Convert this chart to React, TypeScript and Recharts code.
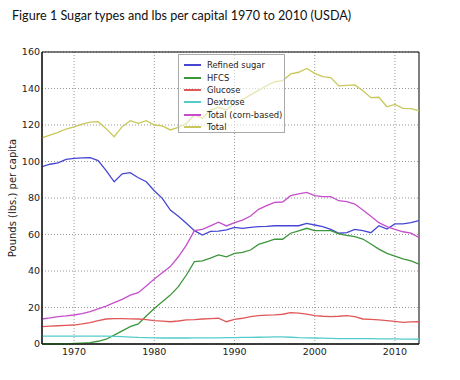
import { LineChart, Line, XAxis, YAxis, CartesianGrid, ReferenceArea } from 'recharts'

const years = [
  1966, 1967, 1968, 1969, 1970, 1971, 1972, 1973, 1974, 1975, 1976, 1977, 1978, 1979, 1980, 1981,
  1982, 1983, 1984, 1985, 1986, 1987, 1988, 1989, 1990, 1991, 1992, 1993, 1994, 1995, 1996, 1997,
  1998, 1999, 2000, 2001, 2002, 2003, 2004, 2005, 2006, 2007, 2008, 2009, 2010, 2011, 2012, 2013,
]

const refined = [
  97.2, 98.5, 99.2, 101.2, 101.7, 102, 102.1, 100.5, 95, 88.9, 93.2, 93.9, 91.1, 88.9, 84, 79.8,
  73.4, 70, 66.2, 62.1, 59.7, 61.7, 61.9, 62.5, 63.9, 63.4, 63.9, 64.3, 64.5, 64.8, 64.8, 64.8,
  64.8, 66.1, 65.2, 64.3, 62.8, 60.7, 61, 62.8, 62.1, 61, 64.8, 63, 65.8, 65.8, 66.5, 67.6,
]

const hfcs = [
  0, 0, 0, 0.1, 0.3, 0.5, 0.7, 1.5, 2.6, 4.9, 7.2, 9.5, 11, 15.3, 19.5, 23.2,
  26.8, 31.4, 37.8, 45.1, 45.5, 47, 48.8, 47.8, 49.7, 50.2, 51.5, 54.6, 56, 57.4, 57.4, 60.7,
  62, 63.4, 62.1, 62.1, 62.1, 60.3, 59.5, 58.8, 57.5, 54.8, 52, 49.7, 48.2, 46.6, 45.5, 43.7,
]

const glucose = [
  9.5, 9.8, 10, 10.2, 10.4, 11, 11.7, 12.8, 13.7, 13.9, 13.9, 13.8, 13.7, 13.3, 12.8, 12.5,
  12.2, 12.6, 13.2, 13.4, 13.7, 13.9, 14.1, 12.2, 13.5, 14.1, 15, 15.5, 15.8, 16, 16.3, 17.2,
  16.9, 16.4, 15.5, 15.2, 15, 15.2, 15.5, 15, 13.7, 13.5, 13.2, 12.8, 12.4, 11.9, 12.1, 12.2,
]

const dextrose = [
  4.3, 4.3, 4.3, 4.3, 4.3, 4.3, 4.3, 4.3, 4.3, 4.2, 4.0, 3.8, 3.6, 3.5, 3.4, 3.3,
  3.3, 3.3, 3.3, 3.4, 3.4, 3.4, 3.4, 3.5, 3.5, 3.6, 3.6, 3.7, 3.8, 3.9, 3.9, 3.7,
  3.5, 3.4, 3.3, 3.2, 3.1, 3.0, 3.0, 3.0, 2.9, 2.9, 2.8, 2.8, 2.8, 2.7, 2.7, 2.6,
]

const cornTotal = [
  13.7, 14.3, 15, 15.4, 15.9, 16.7, 17.7, 19.3, 20.8, 22.7, 24.5, 26.8, 28.1, 31.8, 35.6, 39,
  42.4, 47.8, 54.2, 62.1, 62.8, 64.7, 66.7, 64.7, 66.5, 67.9, 70.1, 73.8, 75.8, 77.6, 77.8, 81.3,
  82.2, 83.1, 81.3, 80.7, 80.7, 78.5, 78, 76.7, 73.4, 70, 66.5, 64.3, 62.8, 61.5, 60.7, 58.4,
]

const total = [
  113, 114.5, 116, 117.8, 119, 120.5, 121.6, 121.8, 118, 113.6, 119.1, 122.4, 120.9, 122.4, 120, 119.5,
  117.3, 118.7, 120.9, 125.5, 123.7, 128.2, 129.7, 128.2, 131.9, 134, 136.5, 139, 141.5, 143.7, 144.3, 148,
  148.9, 151, 148.3, 146.5, 146, 141.4, 141.7, 142, 138.8, 135, 135.2, 130, 131.3, 129.1, 129, 127.9,
]

const xTicks = [1970, 1980, 1990, 2000, 2010]
const yTicks = [0, 20, 40, 60, 80, 100, 120, 140, 160]

const series = [
  { key: 'refined', name: 'Refined sugar', color: '#4646d4' },
  { key: 'hfcs', name: 'HFCS', color: '#3c963c' },
  { key: 'glucose', name: 'Glucose', color: '#e05858' },
  { key: 'dextrose', name: 'Dextrose', color: '#55cccc' },
  { key: 'cornTotal', name: 'Total (corn-based)', color: '#c64ecc' },
  { key: 'total', name: 'Total', color: '#c8c85a' },
]

const data = years.map((year, i) => ({
  year,
  refined: refined[i],
  hfcs: hfcs[i],
  glucose: glucose[i],
  dextrose: dextrose[i],
  cornTotal: cornTotal[i],
  total: total[i],
}))

const axisFont = { fontFamily: 'DejaVu Sans', fontSize: 9.5, fill: '#222' }

// legend sits over the plot, half see-through like the matplotlib one
function LegendBox() {
  return (
    <div
      style={{
        position: 'absolute',
        left: 178,
        top: 54,
        width: 107,
        height: 79,
        border: '1px solid #aaa',
        background: 'rgba(255,255,255,0.55)',
        fontFamily: 'DejaVu Sans',
        fontSize: 8.4,
        color: '#222',
        paddingTop: 4,
        boxSizing: 'border-box',
        whiteSpace: 'nowrap',
      }}
    >
      {series.map((s) => (
        <div key={s.key} style={{ display: 'flex', alignItems: 'center', height: 12.4 }}>
          <span
            style={{
              display: 'inline-block',
              width: 17,
              height: 0,
              borderTop: `2px solid ${s.color}`,
              marginLeft: 5,
              marginRight: 6,
            }}
          />
          <span>{s.name}</span>
        </div>
      ))}
    </div>
  )
}

function YLabel({ viewBox }: any) {
  const cy = viewBox ? viewBox.y + viewBox.height / 2 : 198
  return (
    <text
      transform={`translate(12,${cy}) rotate(-90)`}
      textAnchor="middle"
      dominantBaseline="central"
      style={{ fontFamily: 'DejaVu Sans', fontSize: 10, fill: '#222' }}
    >
      Pounds (lbs.) per capita
    </text>
  )
}

export default function App() {
  return (
    <div style={{ position: 'absolute', left: 0, top: 0, width: 460, height: 380, background: '#fff' }}>
      <div
        style={{
          position: 'absolute',
          left: 12,
          top: 8,
          fontFamily: 'Lato',
          fontSize: 12.6,
          color: '#111',
          whiteSpace: 'nowrap',
        }}
      >
        Figure 1 Sugar types and lbs per capital 1970 to 2010 (USDA)
      </div>
      <LineChart width={460} height={380} data={data} margin={{ top: 52, right: 41, bottom: 0, left: 0 }}>
        <CartesianGrid stroke="#999" strokeDasharray="1 2" horizontalValues={yTicks} verticalValues={xTicks} />
        <XAxis
          dataKey="year"
          type="number"
          domain={[1966, 2013]}
          ticks={xTicks}
          allowDataOverflow
          height={36}
          tickLine={false}
          tickSize={0}
          tickMargin={4}
          axisLine={{ stroke: '#000' }}
          tick={axisFont}
        />
        <YAxis
          type="number"
          domain={[0, 160]}
          ticks={yTicks}
          width={42}
          tickLine={false}
          tickSize={0}
          tickMargin={2}
          axisLine={{ stroke: '#000' }}
          tick={axisFont}
          label={<YLabel />}
        />
        <ReferenceArea x1={1966} x2={2013} y1={0} y2={160} fill="none" stroke="#000" strokeWidth={1} />
        {series.map((s) => (
          <Line
            key={s.key}
            type="linear"
            dataKey={s.key}
            name={s.name}
            stroke={s.color}
            strokeWidth={1.3}
            dot={false}
            isAnimationActive={false}
          />
        ))}
      </LineChart>
      <LegendBox />
    </div>
  )
}
